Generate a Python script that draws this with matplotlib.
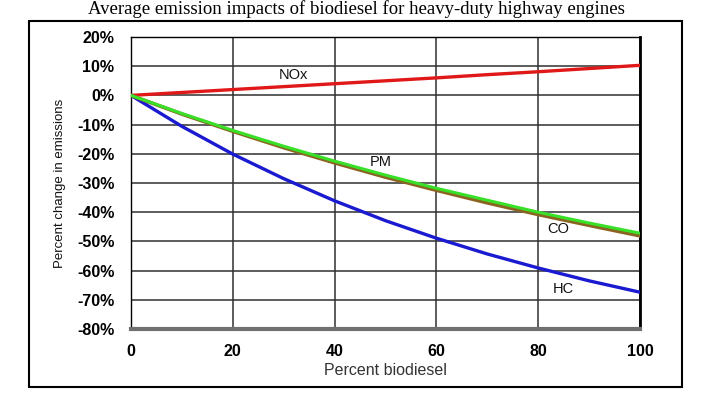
import matplotlib
matplotlib.use("Agg")
import matplotlib.pyplot as plt
import matplotlib.ticker as plticker
from matplotlib.patches import Rectangle

# Values (percent change vs percent biodiesel)
blend = [0, 10, 20, 30, 40, 50, 60, 70, 80, 90, 100]
nox = [0, 1.0, 2.0, 3.0, 4.0, 5.0, 6.0, 7.1, 8.1, 9.2, 10.3]
pm = [0, -6.2, -12.0, -17.4, -22.5, -27.3, -31.8, -35.9, -40.0, -43.7, -47.2]
co = [0, -6.4, -12.3, -17.9, -23.1, -28.0, -32.5, -36.8, -40.8, -44.5, -48.1]
hc = [0, -10.6, -20.1, -28.5, -36.1, -42.9, -48.9, -54.3, -59.1, -63.5, -67.4]

x_ticks = [0, 20, 40, 60, 80, 100]
y_ticks = [20, 10, 0, -10, -20, -30, -40, -50, -60, -70, -80]

title = "Average emission impacts of biodiesel for heavy-duty highway engines"

fig = plt.figure(figsize=(7.13, 4.03), dpi=100)
ax = fig.add_axes([0.1837, 0.1836, 0.7139, 0.7246])

# outer frame round the chart
fig.patches.append(Rectangle((0.0407, 0.0397), 0.9158, 0.9082, transform=fig.transFigure,
                             fill=False, edgecolor='black', linewidth=1.5))

ax.plot(blend, nox, color='#e01818', lw=2.4, zorder=3)
ax.plot(blend, hc, color='#1a1ad0', lw=2.4, zorder=3)
ax.plot(blend, co, color='#8a6420', lw=2.6, zorder=3)
ax.plot(blend, pm, color='#38e028', lw=2.2, zorder=4)

ax.set_xlim(0, 100)
ax.set_ylim(-80, 20)
ax.set_xticks(x_ticks)
ax.set_yticks(y_ticks)
ax.yaxis.set_major_formatter(plticker.FuncFormatter(lambda v, p: "%d%%" % v))
ax.grid(True, color='#303030', lw=1.1, zorder=1)
ax.tick_params(length=0, labelsize=11.5)
ax.tick_params(axis='y', pad=12)
ax.tick_params(axis='x', pad=11)
for lab in ax.get_xticklabels() + ax.get_yticklabels():
    lab.set_fontweight('bold')
    lab.set_family('Liberation Sans')

ax.spines['top'].set_linewidth(1.0)
ax.spines['left'].set_linewidth(1.0)
ax.spines['right'].set_linewidth(2.0)
ax.spines['bottom'].set_linewidth(3)
ax.spines['bottom'].set_color('#707070')

lbl = dict(family='Liberation Sans', fontsize=10.5, color='#111111', ha='center', va='center')
ax.text(32, 6.9, "NOx", **lbl)
ax.text(49, -22.7, "PM", **lbl)
ax.text(84, -45.7, "CO", **lbl)
ax.text(85, -66.3, "HC", **lbl)

ax.set_xlabel("Percent biodiesel", family='Liberation Sans', fontsize=11.5, color='#333333', labelpad=3)
ax.set_ylabel("Percent change in emissions", family='Liberation Sans', fontsize=9.5, color='#111111', labelpad=8)

fig.text(0.5, 0.978, title, family='Liberation Serif', fontsize=13.5, ha='center', va='center')

fig.savefig("out.png", dpi=100)
